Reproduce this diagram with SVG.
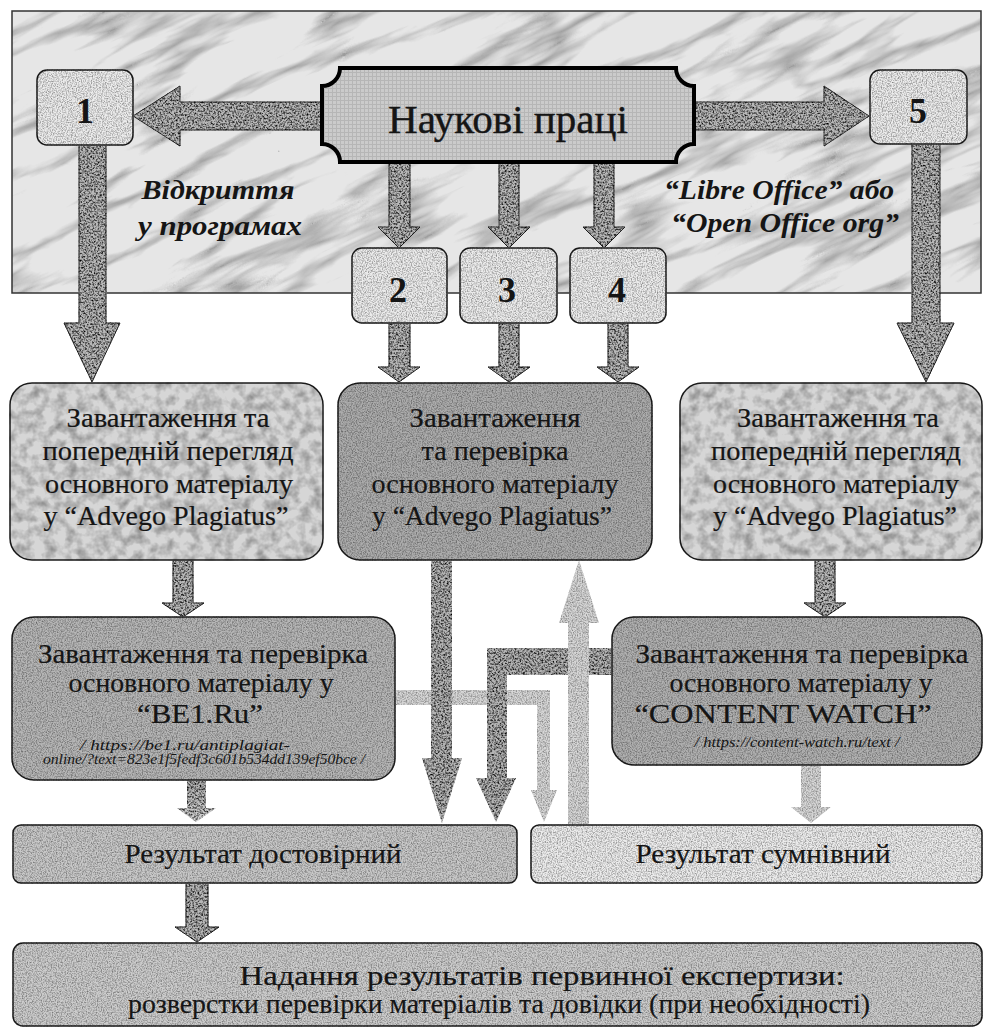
<svg xmlns="http://www.w3.org/2000/svg" width="984" height="1028" viewBox="0 0 984 1028">
<defs>
  <filter id="granite" color-interpolation-filters="sRGB">
    <feTurbulence type="fractalNoise" baseFrequency="0.55" numOctaves="3" seed="7" result="n"/>
    <feColorMatrix in="n" type="matrix" values="2.2 0 0 0 -0.32  2.2 0 0 0 -0.32  2.2 0 0 0 -0.32  0 0 0 0 1" result="g"/>
    <feComposite in="g" in2="SourceGraphic" operator="in" result="c"/>
    <feBlend in="c" in2="SourceGraphic" mode="multiply"/>
  </filter>
  <filter id="speck" color-interpolation-filters="sRGB">
    <feTurbulence type="fractalNoise" baseFrequency="0.8" numOctaves="2" seed="3" result="n"/>
    <feColorMatrix in="n" type="matrix" values="0.9 0 0 0 0.45  0.9 0 0 0 0.45  0.9 0 0 0 0.45  0 0 0 0 1" result="g"/>
    <feComposite in="g" in2="SourceGraphic" operator="in" result="c"/>
    <feBlend in="c" in2="SourceGraphic" mode="multiply"/>
  </filter>
  <filter id="blotch" color-interpolation-filters="sRGB">
    <feTurbulence type="fractalNoise" baseFrequency="0.09" numOctaves="3" seed="5" result="n"/>
    <feColorMatrix in="n" type="matrix" values="0.7 0 0 0 0.57  0.7 0 0 0 0.57  0.7 0 0 0 0.57  0 0 0 0 1" result="g"/>
    <feComposite in="g" in2="SourceGraphic" operator="in" result="c"/>
    <feBlend in="c" in2="SourceGraphic" mode="multiply"/>
  </filter>
  <filter id="marble" color-interpolation-filters="sRGB">
    <feTurbulence type="turbulence" baseFrequency="0.005 0.025" numOctaves="4" seed="11" result="n"/>
    <feColorMatrix in="n" type="matrix" values="1.0 0 0 0 0.68  1.0 0 0 0 0.68  1.0 0 0 0 0.68  0 0 0 0 1" result="g"/>
    <feComposite in="g" in2="SourceGraphic" operator="in" result="c"/>
    <feBlend in="c" in2="SourceGraphic" mode="multiply"/>
  </filter>
  <pattern id="grid" width="4" height="4" patternUnits="userSpaceOnUse">
    <rect width="4" height="4" fill="#cbcbcb"/>
    <path d="M0 0.5H4M0.5 0V4" stroke="#b6b6b6" stroke-width="1"/>
  </pattern>
  <linearGradient id="fadeDown" x1="0" y1="0" x2="0" y2="1">
    <stop offset="0" stop-color="#aaaaaa"/>
    <stop offset="1" stop-color="#d4d4d4"/>
  </linearGradient>
  <clipPath id="panelClip"><rect x="12" y="11" width="969" height="282"/></clipPath>
</defs>
<style>
  .box{stroke:#1a1a1a;stroke-width:1.5}
  .node{fill:#ececec;stroke:#1a1a1a;stroke-width:1.5;filter:url(#speck)}
  .arr{fill:#b8b8b8;stroke:#2a2a2a;stroke-width:1;filter:url(#granite)}
  .arrN{fill:#b4b4b4;filter:url(#granite)}
  .light{fill:#d6d6d6;filter:url(#speck)}
  .t{font-family:"Liberation Serif","DejaVu Serif","Noto Serif",serif;fill:#151515;text-anchor:middle}
  .b{font-size:28px;stroke:#151515;stroke-width:0.2}
  .u{font-size:14px;font-style:italic}
  .lab{font-size:27px;font-style:italic;font-weight:bold}
  .num{font-size:36px;font-weight:bold}
</style>
<rect width="984" height="1028" fill="#ffffff"/>

<!-- background marble panel -->
<g id="panel">
  <g clip-path="url(#panelClip)">
    <rect x="-250" y="-450" width="1500" height="1200" fill="#e6e6e6" transform="rotate(-25 496 152)" filter="url(#marble)"/>
  </g>
  <rect x="12" y="11" width="969" height="282" fill="none" stroke="#333" stroke-width="1.5"/>
</g>

<g id="labels">
  <text class="t lab" x="218" y="199" textLength="153" lengthAdjust="spacingAndGlyphs">Відкриття</text>
  <text class="t lab" x="220" y="235" textLength="164" lengthAdjust="spacingAndGlyphs">у програмах</text>
  <text class="t lab" x="779" y="199" textLength="230" lengthAdjust="spacingAndGlyphs">“Libre Office” або</text>
  <text class="t lab" x="785" y="232" textLength="228" lengthAdjust="spacingAndGlyphs">“Open Office org”</text>
</g>

<g id="connectors">
  <path class="arr" d="M322,102 H180 V86 L133,116 L180,146 V130 H322 Z"/>
  <path class="arr" d="M694,102 H824 V86 L869,116 L824,146 V130 H694 Z"/>
  <path class="arr" d="M79,145 V323 H64 L92,382 L120,323 H106 V145 Z"/>
  <path class="arr" d="M912,144 V323 H897 L926,382 L954,323 H940 V144 Z"/>
  <path class="arr" d="M389,162 V227 H378 L399,248 L420,227 H410 V162 Z"/>
  <path class="arr" d="M499,162 V227 H488 L509,248 L530,227 H519 V162 Z"/>
  <path class="arr" d="M594,162 V227 H583 L604,248 L625,227 H614 V162 Z"/>
  <path class="arr" d="M389,323 V367 H378 L399,382 L420,367 H410 V323 Z"/>
  <path class="arr" d="M499,323 V367 H488 L509,382 L530,367 H519 V323 Z"/>
  <path class="arr" d="M608,323 V367 H597 L618,382 L639,367 H628 V323 Z"/>
  <path class="arr" d="M173,560 V603 H162 L183,617 L204,603 H193 V560 Z"/>
  <path class="arr" d="M815,560 V603 H804 L825,617 L846,603 H835 V560 Z"/>
  <path class="light" d="M395,690 H550 V790 H557 L544,822 L531,790 H537 V705 H395 Z"/>
  <path class="arrN" d="M431,560 V758 H422 L442,823 L462,758 H452 V560 Z"/>
  <path class="arrN" d="M612,648 H487 V778 H476 L496,822 L516,778 H507 V675 H612 Z"/>
  <path class="light" d="M568,825 V623 H559 L579,560 L599,623 H589 V825 Z"/>
  <path class="light" d="M801,765 V807 H791 L811,823 L831,807 H821 V765 Z"/>
  <path fill="url(#fadeDown)" filter="url(#granite)" d="M187,780 V808 H177 L196,822 L216,808 H206 V780 Z"/>
  <path class="arr" d="M186,883 V927 H175 L197,942 L219,927 H208 V883 Z"/>
</g>

<g id="naukovi">
  <path d="M322,86 A18,18 0 0 0 340,68 H676 A18,18 0 0 0 694,86 V144 A18,18 0 0 0 676,162 H340 A18,18 0 0 0 322,144 Z" fill="url(#grid)" stroke="#000" stroke-width="4"/>
  <text class="t" x="508" y="133" font-size="40" stroke="#151515" stroke-width="0.4" textLength="240" lengthAdjust="spacingAndGlyphs">Наукові праці</text>
</g>

<g id="n1"><rect class="node" x="37" y="70" width="96" height="75" rx="10"/><text class="t num" x="85" y="123">1</text></g>
<g id="n5"><rect class="node" x="870" y="70" width="97" height="74" rx="10"/><text class="t num" x="918" y="123">5</text></g>
<g id="n2"><rect class="node" x="352" y="248" width="95" height="75" rx="10"/><text class="t num" x="398" y="302">2</text></g>
<g id="n3"><rect class="node" x="460" y="248" width="97" height="75" rx="10"/><text class="t num" x="507" y="302">3</text></g>
<g id="n4"><rect class="node" x="570" y="248" width="96" height="75" rx="10"/><text class="t num" x="617" y="302">4</text></g>

<g id="advego-left">
  <rect class="box" x="10" y="383" width="313" height="177" rx="22" fill="#d6d6d6" filter="url(#blotch)"/>
  <text class="t b" x="168" y="427" textLength="203" lengthAdjust="spacingAndGlyphs">Завантаження та</text>
  <text class="t b" x="168" y="460" textLength="251" lengthAdjust="spacingAndGlyphs">попередній перегляд</text>
  <text class="t b" x="169" y="493" textLength="248" lengthAdjust="spacingAndGlyphs">основного матеріалу</text>
  <text class="t b" x="166" y="525" textLength="245" lengthAdjust="spacingAndGlyphs">у “Advego Plagiatus”</text>
</g>

<g id="advego-mid">
  <rect class="box" x="338" y="383" width="314" height="177" rx="22" fill="#acacac" filter="url(#speck)"/>
  <text class="t b" x="495" y="427" textLength="171" lengthAdjust="spacingAndGlyphs">Завантаження</text>
  <text class="t b" x="495" y="460" textLength="147" lengthAdjust="spacingAndGlyphs">та перевірка</text>
  <text class="t b" x="495" y="493" textLength="247" lengthAdjust="spacingAndGlyphs">основного матеріалу</text>
  <text class="t b" x="492" y="525" textLength="240" lengthAdjust="spacingAndGlyphs">у “Advego Plagiatus”</text>
</g>

<g id="advego-right">
  <rect class="box" x="680" y="383" width="302" height="177" rx="22" fill="#d6d6d6" filter="url(#blotch)"/>
  <text class="t b" x="838" y="427" textLength="202" lengthAdjust="spacingAndGlyphs">Завантаження та</text>
  <text class="t b" x="836" y="460" textLength="250" lengthAdjust="spacingAndGlyphs">попередній перегляд</text>
  <text class="t b" x="836" y="493" textLength="246" lengthAdjust="spacingAndGlyphs">основного матеріалу</text>
  <text class="t b" x="835" y="525" textLength="244" lengthAdjust="spacingAndGlyphs">у “Advego Plagiatus”</text>
</g>

<g id="be1">
  <rect class="box" x="12" y="617" width="383" height="163" rx="22" fill="#b6b6b6" filter="url(#speck)"/>
  <text class="t b" x="203" y="663" textLength="330" lengthAdjust="spacingAndGlyphs">Завантаження та перевірка</text>
  <text class="t b" x="201" y="692" textLength="265" lengthAdjust="spacingAndGlyphs">основного матеріалу у</text>
  <text class="t b" x="200" y="723" textLength="126" lengthAdjust="spacingAndGlyphs">“BE1.Ru”</text>
  <text class="t u" x="185" y="750" textLength="210" lengthAdjust="spacingAndGlyphs">/ https://be1.ru/antiplagiat-</text>
  <text class="t u" x="204" y="764" textLength="322" lengthAdjust="spacingAndGlyphs">online/?text=823e1f5fedf3c601b534dd139ef50bce /</text>
</g>

<g id="contentwatch">
  <rect class="box" x="612" y="617" width="370" height="148" rx="22" fill="#b0b0b0" filter="url(#speck)"/>
  <text class="t b" x="802" y="663" textLength="333" lengthAdjust="spacingAndGlyphs">Завантаження та перевірка</text>
  <text class="t b" x="801" y="692" textLength="263" lengthAdjust="spacingAndGlyphs">основного матеріалу у</text>
  <text class="t b" x="783" y="723" textLength="297" lengthAdjust="spacingAndGlyphs">“CONTENT WATCH”</text>
  <text class="t u" x="797" y="747" textLength="205" lengthAdjust="spacingAndGlyphs">/ https://content-watch.ru/text /</text>
</g>

<g id="res-ok">
  <rect class="box" x="13" y="825" width="504" height="58" rx="8" fill="#c8c8c8" filter="url(#speck)"/>
  <text class="t b" x="263" y="863" textLength="277" lengthAdjust="spacingAndGlyphs">Результат достовірний</text>
</g>

<g id="res-doubt">
  <rect class="box" x="531" y="825" width="451" height="58" rx="8" fill="#ececec" filter="url(#speck)"/>
  <text class="t b" x="763" y="863" textLength="255" lengthAdjust="spacingAndGlyphs">Результат сумнівний</text>
</g>

<g id="final">
  <rect class="box" x="13" y="943" width="969" height="83" rx="10" fill="#cccccc" filter="url(#speck)"/>
  <text class="t b" x="542" y="985" textLength="605" lengthAdjust="spacingAndGlyphs">Надання результатів первинної експертизи:</text>
  <text class="t b" x="499" y="1013" textLength="742" lengthAdjust="spacingAndGlyphs">розверстки перевірки матеріалів та довідки (при необхідності)</text>
</g>
</svg>
